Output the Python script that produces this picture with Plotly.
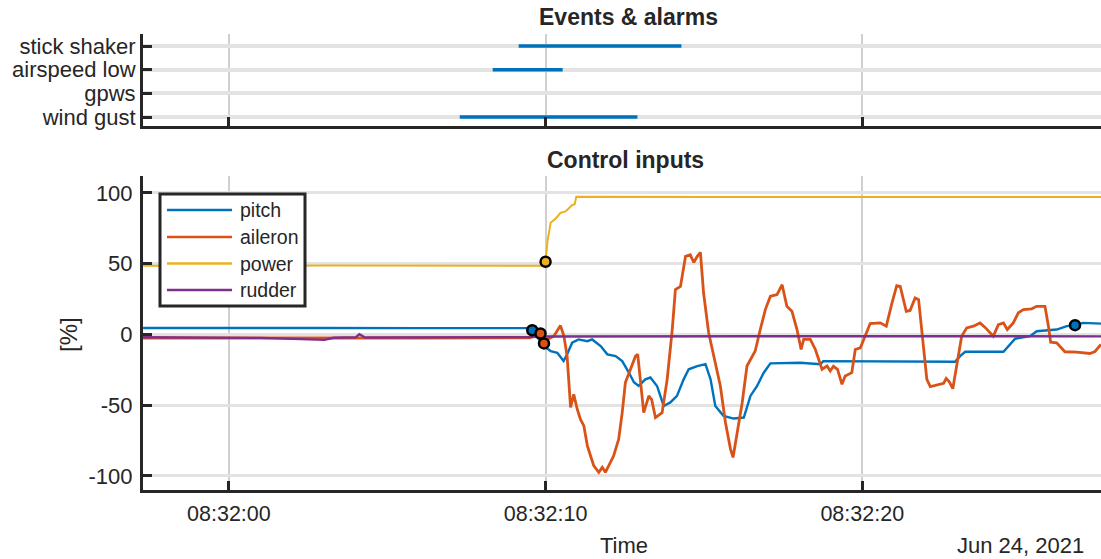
import pandas as pd
import plotly.graph_objects as go

T0 = pd.Timestamp("2021-06-24 08:32:00")

# ---------------- data (seconds after 08:32:00) ----------------
category_order = ["wind gust", "gpws", "airspeed low", "stick shaker"]
event_names = ["stick shaker", "airspeed low", "wind gust"]
event_start = [9.15, 8.33, 7.29]
event_end = [14.29, 10.54, 12.90]

pitch_t = [-2.71, 0.0, 3.0, 6.0, 9.0, 9.45, 9.58, 9.94, 10.16, 10.37, 10.57, 10.68, 10.84, 11.04,
           11.32, 11.47, 11.74, 11.95, 12.21, 12.42, 12.63, 12.79, 12.94, 13.15, 13.31, 13.52,
           13.73, 13.94, 14.15, 14.36, 14.52, 14.79, 15.05, 15.21, 15.36, 15.62, 15.94, 16.26,
           16.47, 16.68, 16.89, 17.10, 18.04, 18.68, 18.77, 22.15, 22.93, 23.09, 23.25, 24.46,
           24.67, 24.83, 25.30, 25.51, 26.14, 26.46, 26.72, 26.97, 27.54]
pitch_v = [4.6, 4.4, 4.6, 4.5, 4.6, 4.5, 3.0, -8.0, -11.7, -12.9, -18.8, -14.0, -5.8, -3.5,
           -4.7, -3.5, -8.2, -14.0, -15.3, -18.8, -26.9, -33.8, -36.4, -31.7, -30.4, -36.4,
           -50.5, -48.0, -43.4, -31.7, -24.6, -22.3, -21.0, -31.7, -50.5, -57.5, -59.4, -58.7,
           -43.4, -36.4, -27.0, -20.4, -20.0, -21.0, -18.8, -18.8, -19.3, -15.3, -12.2, -12.2,
           -7.0, -3.0, -1.2, 2.3, 3.5, 5.9, 6.6, 8.2, 7.7]

aileron_t = [-2.71, 0.0, 3.0, 6.0, 9.5, 9.84, 9.95, 10.05, 10.26, 10.47, 10.58, 10.68, 10.79,
             10.89, 11.00, 11.10, 11.21, 11.32, 11.42, 11.52, 11.68, 11.79, 11.89, 12.00, 12.15,
             12.31, 12.42, 12.52, 12.68, 12.84, 12.91, 13.00, 13.10, 13.26, 13.35, 13.47, 13.68,
             13.84, 14.00, 14.10, 14.26, 14.42, 14.57, 14.68, 14.79, 14.89, 14.99, 15.15, 15.31,
             15.52, 15.68, 15.84, 15.92, 16.05, 16.21, 16.36, 16.47, 16.62, 16.78, 16.94, 17.10,
             17.31, 17.47, 17.62, 17.78, 17.94, 18.07, 18.15, 18.36, 18.52, 18.73, 18.89, 18.99,
             19.09, 19.22, 19.36, 19.46, 19.67, 19.78, 19.94, 20.09, 20.25, 20.57, 20.76, 20.94,
             21.09, 21.20, 21.39, 21.51, 21.67, 21.78, 21.88, 22.04, 22.15, 22.57, 22.65, 22.75,
             22.86, 22.99, 23.14, 23.30, 23.51, 23.72, 23.88, 24.14, 24.30, 24.46, 24.58, 24.77,
             24.93, 25.09, 25.35, 25.51, 25.77, 25.88, 25.95, 26.14, 26.40, 26.77, 27.19, 27.35,
             27.54]
aileron_v = [-2.5, -2.6, -2.4, -2.5, -2.3, 0.7, -6.3, -3.5, -1.2, 6.3, -1.2, -15.3, -51.6,
             -42.3, -52.8, -59.9, -64.6, -78.7, -85.7, -92.7, -97.4, -93.9, -97.4, -92.7, -85.7,
             -73.9, -55.2, -34.0, -24.6, -15.3, -14.0, -31.7, -55.2, -43.4, -46.0, -58.7, -55.2,
             -31.7, 3.5, 31.7, 34.0, 55.2, 56.3, 50.9, 55.2, 58.0, 29.3, 1.2, -15.3,
             -36.4, -62.2, -81.0, -86.9, -69.2, -48.1, -22.3, -17.6, -11.7, 3.5, 17.6, 27.0,
             28.2, 35.2, 19.9, 16.4, 3.5, -10.6, -3.5, -3.5, -10.6, -24.6, -22.3, -25.8,
             -22.5, -24.6, -35.2, -29.3, -27.0, -10.6, -9.4, -1.2, 7.7, 8.2, 5.9, 22.3,
             34.5, 34.0, 16.4, 17.0, 25.8, 24.6, 3.5, -31.7, -36.9, -34.5, -31.0, -33.5,
             -38.3, -22.3, -1.2, 4.7, 5.9, 8.2, 5.0, -1.2, 7.0, 8.2, 3.5, 8.2,
             15.3, 17.6, 18.1, 19.9, 19.9, 5.9, -5.4, -5.9, -12.2, -12.4, -13.4, -12.0,
             -7.0]

power_t = [-2.71, 0.0, 3.0, 6.0, 9.95, 10.00, 10.06, 10.16, 10.32, 10.47, 10.63, 10.73, 10.84,
           10.92, 10.97, 15.0, 20.0, 27.54]
power_v = [48.6, 48.4, 48.7, 48.5, 48.6, 51.4, 66.0, 79.0, 82.0, 86.0, 87.0, 89.0, 91.5,
           92.0, 97.4, 97.2, 97.3, 97.2]

rudder_t = [-2.71, 1.0, 3.02, 3.3, 4.0, 4.12, 4.3, 7.0, 9.5, 10.0, 14.0, 18.0, 22.0, 27.54]
rudder_v = [-2.0, -2.4, -3.8, -2.3, -2.0, 0.2, -2.1, -2.2, -1.8, -1.4, -1.2, -1.4, -1.2, -1.3]

marker_series = ["pitch", "aileron", "aileron", "power", "pitch"]
marker_t = [9.58, 9.84, 9.95, 10.00, 26.72]
marker_v = [3.0, 0.7, -6.3, 51.4, 6.6]

y_ticks = [-100, -50, 0, 50, 100]
y_tick_text = ["-100", "-50", "0", "50", "100"]

series_names = ["pitch", "aileron", "power", "rudder"]
series_colors = {"pitch": "#0072BD", "aileron": "#D95319", "power": "#EDB120", "rudder": "#7E2F8E"}
series_widths = {"pitch": 2.4, "aileron": 2.8, "power": 2.0, "rudder": 2.4}
series_data = {"pitch": (pitch_t, pitch_v), "aileron": (aileron_t, aileron_v),
               "power": (power_t, power_v), "rudder": (rudder_t, rudder_v)}

x_range_s = [-2.713, 27.54]
y_range_top = [-0.38, 3.51]
y_range_bot = [-109.9, 112.0]


def to_time(secs):
    return [T0 + pd.Timedelta(seconds=s) for s in secs]


# ---------------- layout geometry (pixels) ----------------
W, H = 1101, 559
ML, MR, MT, MB = 143, 0, 34, 69
PW, PH = W - ML - MR, H - MT - MB


def px(x):
    return (x - ML) / PW


def py(y):
    return (H - MB - y) / PH


INK = "#262626"
FONT = "Liberation Sans, Arial, sans-serif"

fig = go.Figure()

# events panel
for name, s, e in zip(event_names, event_start, event_end):
    yi = category_order.index(name)
    fig.add_trace(go.Scatter(x=to_time([s, e]), y=[yi, yi], mode="lines",
                             line=dict(color="#0072BD", width=3.5),
                             xaxis="x", yaxis="y", showlegend=False, name=name))

# control inputs panel
for nm in series_names:
    t, v = series_data[nm]
    fig.add_trace(go.Scatter(x=to_time(t), y=v, mode="lines", name=nm,
                             line=dict(color=series_colors[nm], width=series_widths[nm]),
                             xaxis="x2", yaxis="y2", showlegend=False))

fig.add_trace(go.Scatter(x=to_time(marker_t), y=marker_v, mode="markers",
                         marker=dict(size=10, color=[series_colors[s] for s in marker_series],
                                     line=dict(color="black", width=2.5)),
                         xaxis="x2", yaxis="y2", showlegend=False))

xcommon = dict(type="date", range=to_time(x_range_s), showgrid=True, gridcolor="#d0d0d0",
               gridwidth=2, ticks="inside", ticklen=9, tickwidth=3, tickcolor=INK,
               showline=True, linewidth=3, linecolor=INK, zeroline=False,
               tick0=T0, dtick=10000, tickformat="%H:%M:%S",
               tickfont=dict(family=FONT, size=21.5, color=INK))

top_dom = [py(126), 1.0]
bot_dom = [0.0, py(176)]

fig.update_layout(
    width=W, height=H, margin=dict(l=ML, r=MR, t=MT, b=MB),
    paper_bgcolor="white", plot_bgcolor="white",
    font=dict(family=FONT, color=INK),
    xaxis=dict(xcommon, domain=[0, 1], anchor="y", showticklabels=False, matches="x2"),
    yaxis=dict(domain=top_dom, anchor="x", range=y_range_top, tickvals=[0, 1, 2, 3],
               ticktext=category_order, showgrid=True, gridcolor="#e3e3e3", gridwidth=4,
               ticks="inside", ticklen=9, tickwidth=3, tickcolor=INK, showline=True,
               linewidth=3, linecolor=INK, zeroline=False, ticklabelstandoff=0,
               tickfont=dict(family=FONT, size=22, color=INK)),
    xaxis2=dict(xcommon, domain=[0, 1], anchor="y2", ticklabelstandoff=2),
    yaxis2=dict(domain=bot_dom, anchor="x2", range=y_range_bot, tickvals=y_ticks,
                ticktext=y_tick_text,
                showgrid=True, gridcolor="#e3e3e3", gridwidth=3, ticks="inside", ticklen=9,
                tickwidth=3, tickcolor=INK, showline=True, linewidth=3, linecolor=INK,
                zeroline=False, ticklabelstandoff=3,
                tickfont=dict(family=FONT, size=22, color=INK)),
)

annots = [
    dict(text="<b>Events & alarms</b>", x=px(628), y=py(17), size=23),
    dict(text="<b>Control inputs</b>", x=px(625), y=py(160), size=23),
    dict(text="Time", x=px(624), y=py(545), size=22),
]
for a in annots:
    fig.add_annotation(text=a["text"], x=a["x"], y=a["y"], xref="paper", yref="paper",
                       showarrow=False, xanchor="center", yanchor="middle",
                       font=dict(family=FONT, size=a["size"], color=INK))
fig.add_annotation(text="Jun 24, 2021", x=px(1086), y=py(545), xref="paper", yref="paper",
                   showarrow=False, xanchor="right", yanchor="middle",
                   font=dict(family=FONT, size=22, color=INK))
fig.add_annotation(text="[%]", x=px(68), y=py(335), xref="paper", yref="paper",
                   showarrow=False, xanchor="center", yanchor="middle", textangle=-90,
                   font=dict(family=FONT, size=24, color=INK))

# legend box (drawn manually to match the MATLAB style)
fig.add_shape(type="rect", xref="paper", yref="paper", x0=px(160), x1=px(305),
              y0=py(306), y1=py(194), fillcolor="white", line=dict(color=INK, width=3),
              layer="above")
leg_y = [210, 237, 263.5, 290]
for nm, yy in zip(series_names, leg_y):
    fig.add_shape(type="line", xref="paper", yref="paper", x0=px(167), x1=px(232),
                  y0=py(yy), y1=py(yy), line=dict(color=series_colors[nm], width=2.5),
                  layer="above")
    fig.add_annotation(text=nm, x=px(238), y=py(yy), xref="paper", yref="paper",
                       showarrow=False, xanchor="left", yanchor="middle",
                       font=dict(family=FONT, size=19.5, color=INK))

fig.write_html("out.html")
